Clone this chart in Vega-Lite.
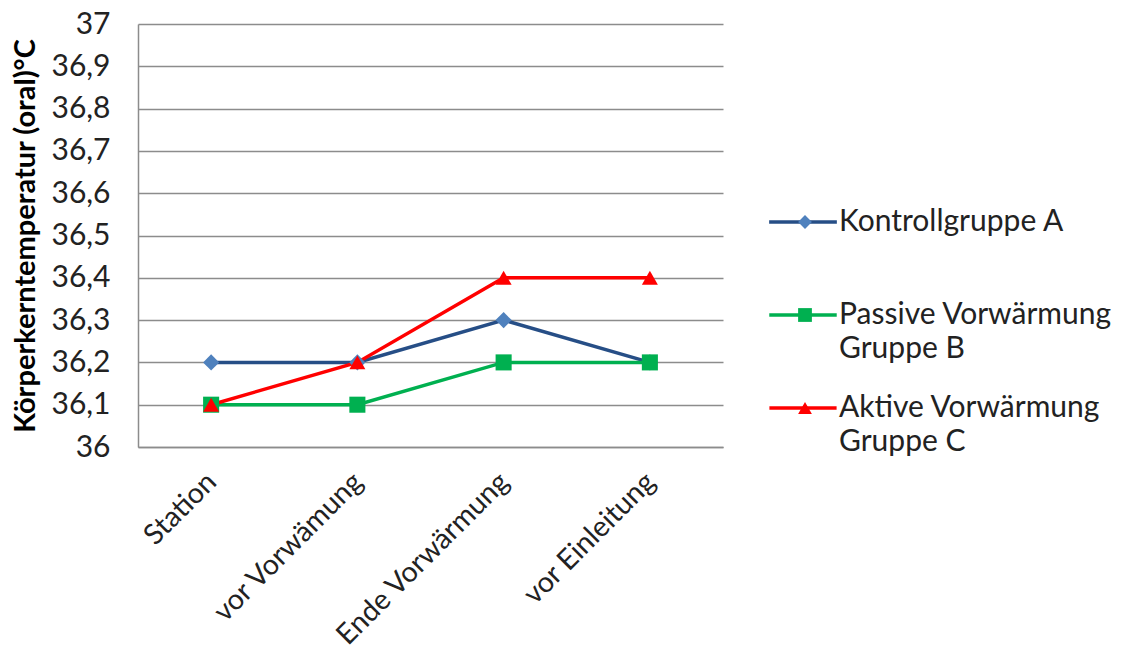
{
  "$schema": "https://vega.github.io/schema/vega-lite/v6.json",
  "width": 585,
  "height": 423,
  "autosize": "none",
  "padding": {"left": 138, "top": 24, "right": 400, "bottom": 201},
  "background": "white",
  "config": {
    "font": "Lato",
    "view": {"stroke": null},
    "style": {"guide-label": {"lineHeight": 34}}
  },
  "data": {
    "values": [
      {"series": "Kontrollgruppe A", "stage": "Station", "temp": 36.2},
      {"series": "Kontrollgruppe A", "stage": "vor Vorwämung", "temp": 36.2},
      {"series": "Kontrollgruppe A", "stage": "Ende Vorwärmung", "temp": 36.3},
      {"series": "Kontrollgruppe A", "stage": "vor Einleitung", "temp": 36.2},
      {"series": "Passive Vorwärmung Gruppe B", "stage": "Station", "temp": 36.1},
      {"series": "Passive Vorwärmung Gruppe B", "stage": "vor Vorwämung", "temp": 36.1},
      {"series": "Passive Vorwärmung Gruppe B", "stage": "Ende Vorwärmung", "temp": 36.2},
      {"series": "Passive Vorwärmung Gruppe B", "stage": "vor Einleitung", "temp": 36.2},
      {"series": "Aktive Vorwärmung Gruppe C", "stage": "Station", "temp": 36.1},
      {"series": "Aktive Vorwärmung Gruppe C", "stage": "vor Vorwämung", "temp": 36.2},
      {"series": "Aktive Vorwärmung Gruppe C", "stage": "Ende Vorwärmung", "temp": 36.4},
      {"series": "Aktive Vorwärmung Gruppe C", "stage": "vor Einleitung", "temp": 36.4}
    ]
  },
  "encoding": {
    "x": {
      "field": "stage",
      "type": "nominal",
      "sort": ["Station", "vor Vorwämung", "Ende Vorwärmung", "vor Einleitung"],
      "scale": {"type": "point", "padding": 0.5},
      "axis": {
        "title": null,
        "grid": false,
        "ticks": false,
        "domainColor": "#8c8c8c",
        "domainWidth": 1.5,
        "labelAngle": -45,
        "labelAlign": "right",
        "labelBaseline": "middle",
        "labelPadding": 30,
        "labelFontSize": 28.5,
        "labelColor": "#222222",
        "labelLimit": 400
      }
    },
    "y": {
      "field": "temp",
      "type": "quantitative",
      "scale": {"domain": [36, 37], "zero": false, "nice": false},
      "axis": {
        "title": "Körperkerntemperatur (oral)°C",
        "titleFontSize": 29,
        "titleFontWeight": "bold",
        "titleColor": "#000000",
        "titlePadding": 10,
        "values": [36, 36.1, 36.2, 36.3, 36.4, 36.5, 36.6, 36.7, 36.8, 36.9, 37],
        "labelExpr": "replace(format(datum.value, '.1~f'), '.', ',')",
        "labelFontSize": 30,
        "labelColor": "#222222",
        "labelPadding": 28,
        "ticks": false,
        "grid": true,
        "gridColor": "#8c8c8c",
        "gridWidth": 1.5,
        "domainColor": "#8c8c8c",
        "domainWidth": 1.5
      }
    }
  },
  "layer": [
    {
      "mark": {"type": "line", "strokeWidth": 3.5},
      "encoding": {
        "stroke": {
          "field": "series",
          "type": "nominal",
          "scale": {
            "domain": ["Kontrollgruppe A", "Passive Vorwärmung Gruppe B", "Aktive Vorwärmung Gruppe C"],
            "range": ["#264e86", "#00b050", "#ff0000"]
          },
          "legend": {
            "orient": "none",
            "legendX": 650,
            "legendY": 183,
            "padding": 0,
            "title": null,
            "symbolType": "M-4.2,0H4.2",
            "symbolSize": 455,
            "symbolStrokeWidth": 3.5,
            "labelFontSize": 30,
            "labelColor": "#222222",
            "labelOffset": 21,
            "labelLimit": 400,
            "rowPadding": 29,
            "labelExpr": "datum.label == 'Kontrollgruppe A' ? [datum.label, ''] : [slice(datum.label, 0, -9), slice(datum.label, -8)]"
          }
        }
      }
    },
    {
      "mark": {"type": "point", "filled": true, "opacity": 1},
      "encoding": {
        "fill": {
          "field": "series",
          "type": "nominal",
          "scale": {
            "domain": ["Kontrollgruppe A", "Passive Vorwärmung Gruppe B", "Aktive Vorwärmung Gruppe C"],
            "range": ["#4f81bd", "#00b050", "#ff0000"]
          },
          "legend": {
            "orient": "right",
            "offset": -116.5,
            "padding": 183,
            "title": null,
            "symbolSize": 190,
            "symbolStrokeWidth": 0,
            "labelFontSize": 30,
            "labelOpacity": 0,
            "labelOffset": 5,
            "labelLimit": 400,
            "rowPadding": 29,
            "labelExpr": "['\u00a0', '\u00a0']"
          }
        },
        "shape": {
          "field": "series",
          "type": "nominal",
          "scale": {
            "domain": ["Kontrollgruppe A", "Passive Vorwärmung Gruppe B", "Aktive Vorwärmung Gruppe C"],
            "range": ["diamond", "square", "triangle-up"]
          },
          "legend": {
            "orient": "right",
            "offset": -116.5,
            "padding": 183,
            "title": null,
            "symbolSize": 190,
            "symbolStrokeWidth": 0,
            "labelFontSize": 30,
            "labelOpacity": 0,
            "labelOffset": 5,
            "labelLimit": 400,
            "rowPadding": 29,
            "labelExpr": "['\u00a0', '\u00a0']"
          }
        },
        "size": {
          "field": "series",
          "type": "nominal",
          "scale": {
            "domain": ["Kontrollgruppe A", "Passive Vorwärmung Gruppe B", "Aktive Vorwärmung Gruppe C"],
            "range": [260, 256, 260]
          },
          "legend": null
        }
      }
    }
  ]
}
